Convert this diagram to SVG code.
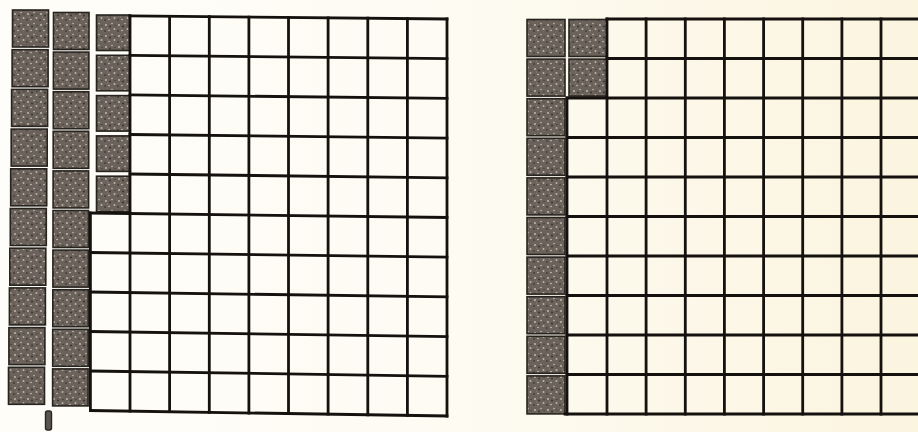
<svg xmlns="http://www.w3.org/2000/svg" width="918" height="432" viewBox="0 0 918 432">
<defs>
<linearGradient id="paper" x1="0" y1="0" x2="1" y2="0">
<stop offset="0" stop-color="#fefdf9"/>
<stop offset="0.5" stop-color="#fdfbf2"/>
<stop offset="1" stop-color="#fbf4df"/>
</linearGradient>
<pattern id="speckle" width="13" height="11" patternUnits="userSpaceOnUse">
<rect width="13" height="11" fill="#6b635b"/>
<circle cx="2" cy="3" r="0.9" fill="#c9c1b4"/>
<circle cx="8" cy="1.5" r="0.7" fill="#d6cfc3"/>
<circle cx="10.5" cy="7" r="1" fill="#bdb4a7"/>
<circle cx="5" cy="8.5" r="0.8" fill="#cfc7ba"/>
<circle cx="6" cy="4.5" r="1" fill="#3a342f"/>
<circle cx="1" cy="9" r="0.8" fill="#2f2a26"/>
<circle cx="11" cy="3.5" r="0.7" fill="#403a34"/>
<circle cx="3.5" cy="6" r="0.6" fill="#8f877d"/>
</pattern>
<style>
.cell{fill:url(#speckle);stroke:#27231f;stroke-width:1.6}
.ln{stroke:#14110e;stroke-width:2.8;stroke-linecap:square;fill:none}
</style>
</defs>
<rect width="918" height="432" fill="url(#paper)"/>

<g id="left-grid">
<g id="left-shaded">
<rect class="cell" x="12.5" y="10" width="36" height="37"/>
<rect class="cell" x="12.1" y="49.7" width="36" height="37"/>
<rect class="cell" x="11.6" y="89.4" width="36" height="37"/>
<rect class="cell" x="11.2" y="129.1" width="36" height="37"/>
<rect class="cell" x="10.7" y="168.8" width="36" height="37"/>
<rect class="cell" x="10.3" y="208.5" width="36" height="37"/>
<rect class="cell" x="9.8" y="248.2" width="36" height="37"/>
<rect class="cell" x="9.4" y="287.9" width="36" height="37"/>
<rect class="cell" x="8.9" y="327.6" width="36" height="37"/>
<rect class="cell" x="8.5" y="367.3" width="36" height="37"/>

<rect class="cell" x="53.5" y="12.5" width="35.5" height="37"/>
<rect class="cell" x="53.4" y="52.1" width="35.5" height="37"/>
<rect class="cell" x="53.3" y="91.7" width="35.5" height="37"/>
<rect class="cell" x="53.2" y="131.3" width="35.5" height="37"/>
<rect class="cell" x="53.1" y="170.9" width="35.5" height="37"/>
<rect class="cell" x="53" y="210.5" width="35.5" height="37"/>
<rect class="cell" x="52.9" y="250.1" width="35.5" height="37"/>
<rect class="cell" x="52.8" y="289.7" width="35.5" height="37"/>
<rect class="cell" x="52.7" y="329.3" width="35.5" height="37"/>
<rect class="cell" x="52.6" y="368.9" width="35.5" height="37"/>

<rect class="cell" x="96.5" y="15" width="33.5" height="35.5"/>
<rect class="cell" x="96.5" y="55.3" width="33.5" height="35.5"/>
<rect class="cell" x="96.5" y="95.6" width="33.5" height="35.5"/>
<rect class="cell" x="96.5" y="135.9" width="33.5" height="35.5"/>
<rect class="cell" x="96.5" y="176.2" width="33.5" height="35.5"/>
</g>
<g id="left-lines">
<line class="ln" x1="130" y1="15.9" x2="447" y2="19"/>
<line class="ln" x1="130" y1="55.4" x2="447" y2="58.7"/>
<line class="ln" x1="130" y1="94.9" x2="447" y2="98.4"/>
<line class="ln" x1="130" y1="134.5" x2="447" y2="138.1"/>
<line class="ln" x1="130" y1="174" x2="447" y2="177.8"/>
<line class="ln" x1="90.4" y1="213" x2="447" y2="217.5"/>
<line class="ln" x1="90.4" y1="252.5" x2="447" y2="257.2"/>
<line class="ln" x1="90.4" y1="292" x2="447" y2="296.9"/>
<line class="ln" x1="90.4" y1="331.5" x2="447" y2="336.6"/>
<line class="ln" x1="90.4" y1="371" x2="447" y2="376.3"/>
<line class="ln" x1="90.4" y1="410.5" x2="447" y2="416"/>

<line class="ln" x1="90.4" y1="213" x2="90.4" y2="410.5"/>
<line class="ln" x1="130" y1="15.9" x2="130" y2="411.1"/>
<line class="ln" x1="169.6" y1="16.3" x2="169.6" y2="411.7"/>
<line class="ln" x1="209.3" y1="16.7" x2="209.3" y2="412.3"/>
<line class="ln" x1="248.9" y1="17.1" x2="248.9" y2="413"/>
<line class="ln" x1="288.5" y1="17.4" x2="288.5" y2="413.6"/>
<line class="ln" x1="328.1" y1="17.8" x2="328.1" y2="414.2"/>
<line class="ln" x1="367.8" y1="18.2" x2="367.8" y2="414.8"/>
<line class="ln" x1="407.4" y1="18.6" x2="407.4" y2="415.4"/>
<line class="ln" x1="447" y1="19" x2="447" y2="416"/>
</g>
<rect id="left-mark" x="45.5" y="411" width="6" height="19" rx="2" fill="#5a5550" stroke="#2a2622" stroke-width="1.4"/>
</g>

<g id="right-grid">
<g id="right-shaded">
<rect class="cell" x="527" y="19.5" width="38" height="37"/>
<rect class="cell" x="527" y="59.1" width="38" height="37"/>
<rect class="cell" x="527" y="98.7" width="38" height="37"/>
<rect class="cell" x="527" y="138.3" width="38" height="37"/>
<rect class="cell" x="527" y="177.9" width="38" height="37"/>
<rect class="cell" x="527" y="217.5" width="38" height="37"/>
<rect class="cell" x="527" y="257.1" width="38" height="37"/>
<rect class="cell" x="527" y="296.7" width="38" height="37"/>
<rect class="cell" x="527" y="336.3" width="38" height="37"/>
<rect class="cell" x="527" y="375.9" width="38" height="38"/>
<rect class="cell" x="569" y="19.5" width="38" height="37"/>
<rect class="cell" x="569" y="59.1" width="38" height="37"/>
</g>
<g id="right-lines">
<line class="ln" x1="607" y1="19" x2="920" y2="19"/>
<line class="ln" x1="607" y1="58.5" x2="920" y2="58.5"/>
<line class="ln" x1="567" y1="98" x2="920" y2="98"/>
<line class="ln" x1="567" y1="137.5" x2="920" y2="137.5"/>
<line class="ln" x1="567" y1="177" x2="920" y2="177"/>
<line class="ln" x1="567" y1="216.5" x2="920" y2="216.5"/>
<line class="ln" x1="567" y1="256" x2="920" y2="256"/>
<line class="ln" x1="567" y1="295.5" x2="920" y2="295.5"/>
<line class="ln" x1="567" y1="335" x2="920" y2="335"/>
<line class="ln" x1="567" y1="374.5" x2="920" y2="374.5"/>
<line class="ln" x1="565" y1="414" x2="920" y2="414"/>

<line class="ln" x1="567" y1="98" x2="567" y2="414"/>
<line class="ln" x1="607" y1="19" x2="607" y2="414"/>
<line class="ln" x1="646.1" y1="19" x2="646.1" y2="414"/>
<line class="ln" x1="685.3" y1="19" x2="685.3" y2="414"/>
<line class="ln" x1="724.4" y1="19" x2="724.4" y2="414"/>
<line class="ln" x1="763.6" y1="19" x2="763.6" y2="414"/>
<line class="ln" x1="802.7" y1="19" x2="802.7" y2="414"/>
<line class="ln" x1="841.9" y1="19" x2="841.9" y2="414"/>
<line class="ln" x1="881" y1="19" x2="881" y2="414"/>
</g>
</g>
</svg>
